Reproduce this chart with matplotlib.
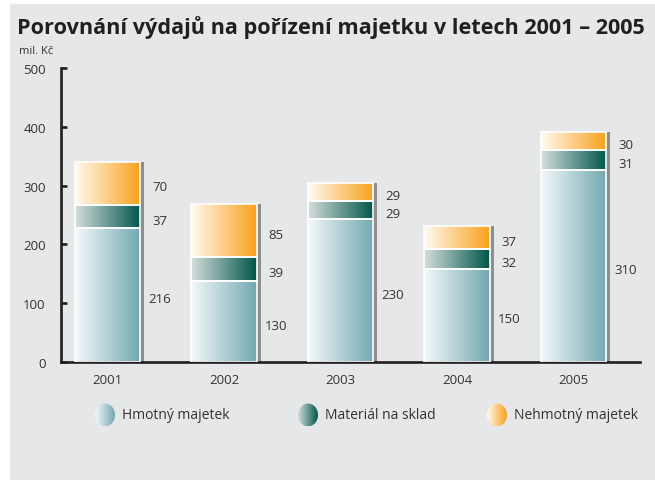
import numpy as np
import matplotlib.pyplot as plt
from matplotlib.colors import LinearSegmentedColormap
from matplotlib.patches import Ellipse, Rectangle

years = ['2001', '2002', '2003', '2004', '2005']
hmotny = [216, 130, 230, 150, 310]
material = [37, 39, 29, 32, 31]
nehmotny = [70, 85, 29, 37, 30]
series_names = ['Hmotný majetek', 'Materiál na sklad', 'Nehmotný majetek']
yticks = [0, 100, 200, 300, 400, 500]

# bars in the original are drawn ~5 % taller than the axis says
scale = 1.055

# gradient (left, right) for each series
gradients = [('#f4f9fa', '#72a8b1'), ('#d5dedc', '#00564a'), ('#fffaf2', '#f8a11a')]
cmaps = [LinearSegmentedColormap.from_list('g%d' % i, g) for i, g in enumerate(gradients)]
grad = np.linspace(0, 1, 256).reshape(1, -1)

plt.rcParams['font.family'] = ['Open Sans', 'DejaVu Sans']
ink = '#231f20'
txt = '#333333'

fig = plt.figure(figsize=(6.55, 4.81), dpi=100)
fig.add_artist(Rectangle((10 / 655, 0), 1, 476 / 481, transform=fig.transFigure,
                         color='#e6e7e8', zorder=0))

ax = fig.add_axes([61 / 655, 118 / 481, 579 / 655, 294 / 481])
ax.set_facecolor('none')

x = np.arange(len(years))
width = 0.56
series = [hmotny, material, nehmotny]
totals = np.sum(series, axis=0)

# shadow on the right side
ax.bar(x + 0.035, totals, width, color='#8e8e8e', zorder=1)

bottom = np.zeros(len(years))
for vals, cmap in zip(series, cmaps):
    bars = ax.bar(x, vals, width, bottom=bottom, facecolor='none',
                  edgecolor='white', linewidth=1.2, zorder=3)
    for b in bars:
        x0, y0 = b.get_x(), b.get_y()
        im = ax.imshow(grad, cmap=cmap, aspect='auto', zorder=2,
                       extent=(x0, x0 + b.get_width(), y0, y0 + b.get_height()))
        im.set_clip_path(b)
    for xi, v, bt in zip(x, vals, bottom):
        ax.annotate(str(v), (xi + width / 2 + 0.17, bt + v / 2), xytext=(0, -2.5),
                    textcoords='offset points', ha='center', va='center',
                    fontsize=9.5, color=txt)
    bottom = bottom + np.array(vals)

ax.set_xlim(-0.399, 4.571)
ax.set_ylim(0, 500 / scale)
ax.set_yticks([t / scale for t in yticks])
ax.set_yticklabels([str(t) for t in yticks])
ax.set_xticks(x)
ax.set_xticklabels(years)

for s in ['top', 'right']:
    ax.spines[s].set_visible(False)
for s in ['left', 'bottom']:
    ax.spines[s].set_color(ink)
    ax.spines[s].set_linewidth(1.9)
ax.tick_params(axis='y', direction='in', length=4, width=1.9, color=ink,
               labelsize=9.5, labelcolor=txt, pad=11)
ax.tick_params(axis='x', length=0, labelsize=9.5, labelcolor=txt, pad=8)

fig.text(17 / 655, 1 - 28 / 481, 'Porovnání výdajů na pořízení majetku v letech 2001 – 2005',
         fontsize=15.6, fontweight='bold', color=ink, va='center')
fig.text(36 / 655, 1 - 52 / 481, 'mil. Kč', fontsize=8, color=txt, ha='center', va='center')

# legend with gradient circles
lax = fig.add_axes([0, 0, 1, 1])
lax.set_xlim(0, 655)
lax.set_ylim(481, 0)
lax.axis('off')
leg_x = [105, 308, 497]
leg_y = 416
for lx, name, cmap in zip(leg_x, series_names, cmaps):
    e = Ellipse((lx, leg_y), 20, 23, facecolor='none', edgecolor='none')
    lax.add_patch(e)
    im = lax.imshow(grad, cmap=cmap, aspect='auto',
                    extent=(lx - 10, lx + 10, leg_y + 11.5, leg_y - 11.5))
    im.set_clip_path(e)
    lax.text(lx + 17, leg_y, name, fontsize=10, color=txt, va='center')
lax.set_xlim(0, 655)
lax.set_ylim(481, 0)

fig.savefig('out.png', dpi=100)
